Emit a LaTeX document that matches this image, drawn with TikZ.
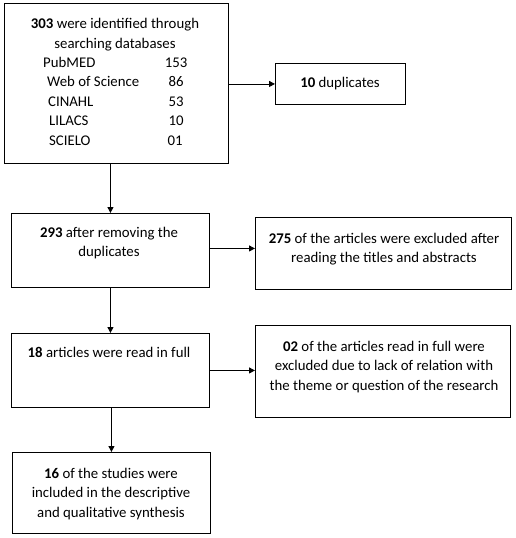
\documentclass[tikz,border=0pt]{standalone}
\usepackage{fontspec}
\setmainfont{Carlito}
\usetikzlibrary{arrows.meta}
\begin{document}
\begin{tikzpicture}[x=1pt,y=-1pt,
  box/.style={draw,line width=0.9pt,inner sep=0pt,anchor=north west},
  txt/.style={font=\fontsize{14.8}{19.5}\selectfont,align=center,inner sep=0pt,anchor=base},
  lbl/.style={font=\fontsize{14.8}{19.5}\selectfont,inner sep=0pt,anchor=base west},
  num/.style={font=\fontsize{14.8}{19.5}\selectfont,inner sep=0pt,anchor=base},
  arr/.style={line width=0.9pt,-{Triangle[length=6pt,width=6pt]}}]
\useasboundingbox (0,0) rectangle (515,538);
% boxes
\node[box,minimum width=224pt,minimum height=160pt] (b1) at (4,3) {};
\node[box,minimum width=130pt,minimum height=41pt] (b2) at (275,63) {};
\node[box,minimum width=198pt,minimum height=74pt] (b3) at (11,213) {};
\node[box,minimum width=256pt,minimum height=72pt] (b4) at (255,217) {};
\node[box,minimum width=198pt,minimum height=74pt] (b5) at (11,333) {};
\node[box,minimum width=255pt,minimum height=92pt] (b6) at (255,325) {};
\node[box,minimum width=198pt,minimum height=81pt] (b7) at (12,452) {};
% texts
\node[txt] (t1a) at (115,28.5) {\textbf{303} were identified through};
\node[txt] (t1b) at (115,48) {searching databases};
\node[lbl] (l1) at (43,67) {PubMED};
\node[lbl] (l2) at (47,86.5) {Web of Science};
\node[lbl] (l3) at (48,106) {CINAHL};
\node[lbl] (l4) at (49,125.5) {LILACS};
\node[lbl] (l5) at (49,145) {SCIELO};
\node[num] (n1) at (176,67) {153};
\node[num] (n2) at (176,86.5) {86};
\node[num] (n3) at (176,106) {53};
\node[num] (n4) at (176,125.5) {10};
\node[num] (n5) at (175,145) {01};
\node[txt] (t2) at (340,87.5) {\textbf{10} duplicates};
\node[txt] (t3a) at (109,237) {\textbf{293} after removing the};
\node[txt] (t3b) at (109,256.5) {duplicates};
\node[txt] (t4a) at (384,243) {\textbf{275} of the articles were excluded after};
\node[txt] (t4b) at (384,262.5) {reading the titles and abstracts};
\node[txt] (t5) at (109,357) {\textbf{18} articles were read in full};
\node[txt] (t6a) at (384,351) {\textbf{02} of the articles read in full were};
\node[txt] (t6b) at (384,370.5) {excluded due to lack of relation with};
\node[txt] (t6c) at (384,390) {the theme or question of the research};
\node[txt] (t7a) at (111,478) {\textbf{16} of the studies were};
\node[txt] (t7b) at (111,497.5) {included in the descriptive};
\node[txt] (t7c) at (111,517) {and qualitative synthesis};
% connectors
\draw[arr] (b1.east |- b2.west) -- (b2.west);
\draw[arr] (b3.north |- b1.south) -- (b3.north);
\draw[arr] ([yshift=2pt]b3.east) -- ([yshift=2pt]b3.east -| b4.west);
\draw[arr] (b5.north |- b3.south) -- (b5.north);
\draw[arr] (b5.east) -- (b5.east -| b6.west);
\draw[arr] (b7.north |- b5.south) -- (b7.north);
\end{tikzpicture}
\end{document}
